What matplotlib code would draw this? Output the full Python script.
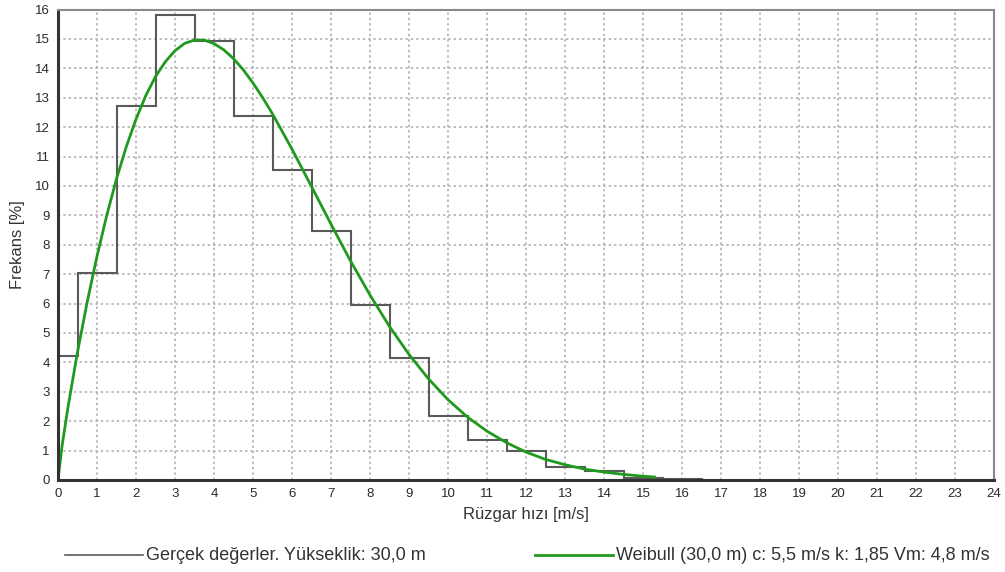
import matplotlib
matplotlib.use("Agg")
import matplotlib.pyplot as plt
from matplotlib.lines import Line2D

plt.rcParams['font.family'] = ['Liberation Sans', 'DejaVu Sans']

# Observed histogram (bin edges and frequency %)
bin_edges = [0, 0.5, 1.5, 2.5, 3.5, 4.5, 5.5, 6.5, 7.5, 8.5, 9.5, 10.5,
             11.5, 12.5, 13.5, 14.5, 15.5, 16.5]
freq = [4.22, 7.03, 12.71, 15.82, 14.93, 12.37, 10.55, 8.46, 5.95, 4.14,
        2.17, 1.37, 1.0, 0.45, 0.32, 0.07, 0.02]

# Weibull curve points
curve_x = [0, 0.1, 0.25, 0.5, 0.75, 1, 1.25, 1.5, 1.75, 2, 2.25, 2.5, 2.75,
           3, 3.25, 3.5, 3.75, 4, 4.25, 4.5, 4.75, 5, 5.25, 5.5, 6, 6.5, 7,
           7.5, 8, 8.5, 9, 9.5, 10, 10.5, 11, 11.5, 12, 12.5, 13, 13.5, 14,
           14.5, 15, 15.3]
curve_y = [0, 1.12, 2.43, 4.35, 6.06, 7.61, 9.0, 10.24, 11.33, 12.27, 13.07,
           13.72, 14.22, 14.6, 14.85, 14.96, 14.96, 14.84, 14.63, 14.33,
           13.95, 13.5, 13.0, 12.45, 11.25, 9.98, 8.7, 7.45, 6.29, 5.22, 4.27,
           3.44, 2.73, 2.14, 1.66, 1.27, 0.95, 0.7, 0.52, 0.37, 0.27, 0.19,
           0.13, 0.1]

x_ticks = list(range(0, 25))
y_ticks = list(range(0, 17))

label_hist = "Gerçek değerler. Yükseklik: 30,0 m"
label_weib = "Weibull (30,0 m) c: 5,5 m/s k: 1,85 Vm: 4,8 m/s"

W, H = 1005, 572
fig = plt.figure(figsize=(W / 100, H / 100), dpi=100)
ax_l, ax_r, ax_t, ax_b = 58, 994, 9.5, 480
ax = fig.add_axes([ax_l / W, 1 - ax_b / H, (ax_r - ax_l) / W, (ax_b - ax_t) / H])

ax.set_xlim(0, 24)
ax.set_ylim(0, 16)
ax.set_xticks(x_ticks)
ax.set_yticks(y_ticks)
ax.grid(True, color='#a8a8a8', linestyle=(0, (1.5, 2)), linewidth=1.1)
ax.set_axisbelow(True)
ax.tick_params(length=0, labelsize=9.5, colors='#2a2a2a', pad=6)

ax.stairs(freq, bin_edges, baseline=0, color='#5a5a5a', linewidth=1.5, zorder=3)
ax.plot(curve_x, curve_y, color='#1f9a1f', linewidth=2, zorder=4)

for s in ['left', 'bottom']:
    ax.spines[s].set_color('#333333')
    ax.spines[s].set_linewidth(2.2)
for s in ['top', 'right']:
    ax.spines[s].set_color('#8a8a8a')
    ax.spines[s].set_linewidth(1.5)
for s in ax.spines.values():
    s.set_zorder(5)

ax.set_xlabel("Rüzgar hızı [m/s]", fontsize=12, color='#333333')
ax.set_ylabel("Frekans [%]", fontsize=12, color='#333333')
ax.xaxis.set_label_coords(0.5, (ax_b - 514) / (ax_b - ax_t))
ax.xaxis.label.set_va('center')
ax.yaxis.set_label_coords((18 - ax_l) / (ax_r - ax_l), 0.5)
ax.yaxis.label.set_va('center')

ly = 1 - 555 / H
fig.add_artist(Line2D([65 / W, 143 / W], [ly, ly], color='#5a5a5a', linewidth=1.2))
fig.text(146 / W, ly, label_hist, fontsize=13, color='#333333', va='center', ha='left')
fig.add_artist(Line2D([535 / W, 613 / W], [ly, ly], color='#1f9a1f', linewidth=2))
fig.text(616 / W, ly, label_weib, fontsize=13, color='#333333', va='center', ha='left')

fig.savefig("out.png", dpi=100)
